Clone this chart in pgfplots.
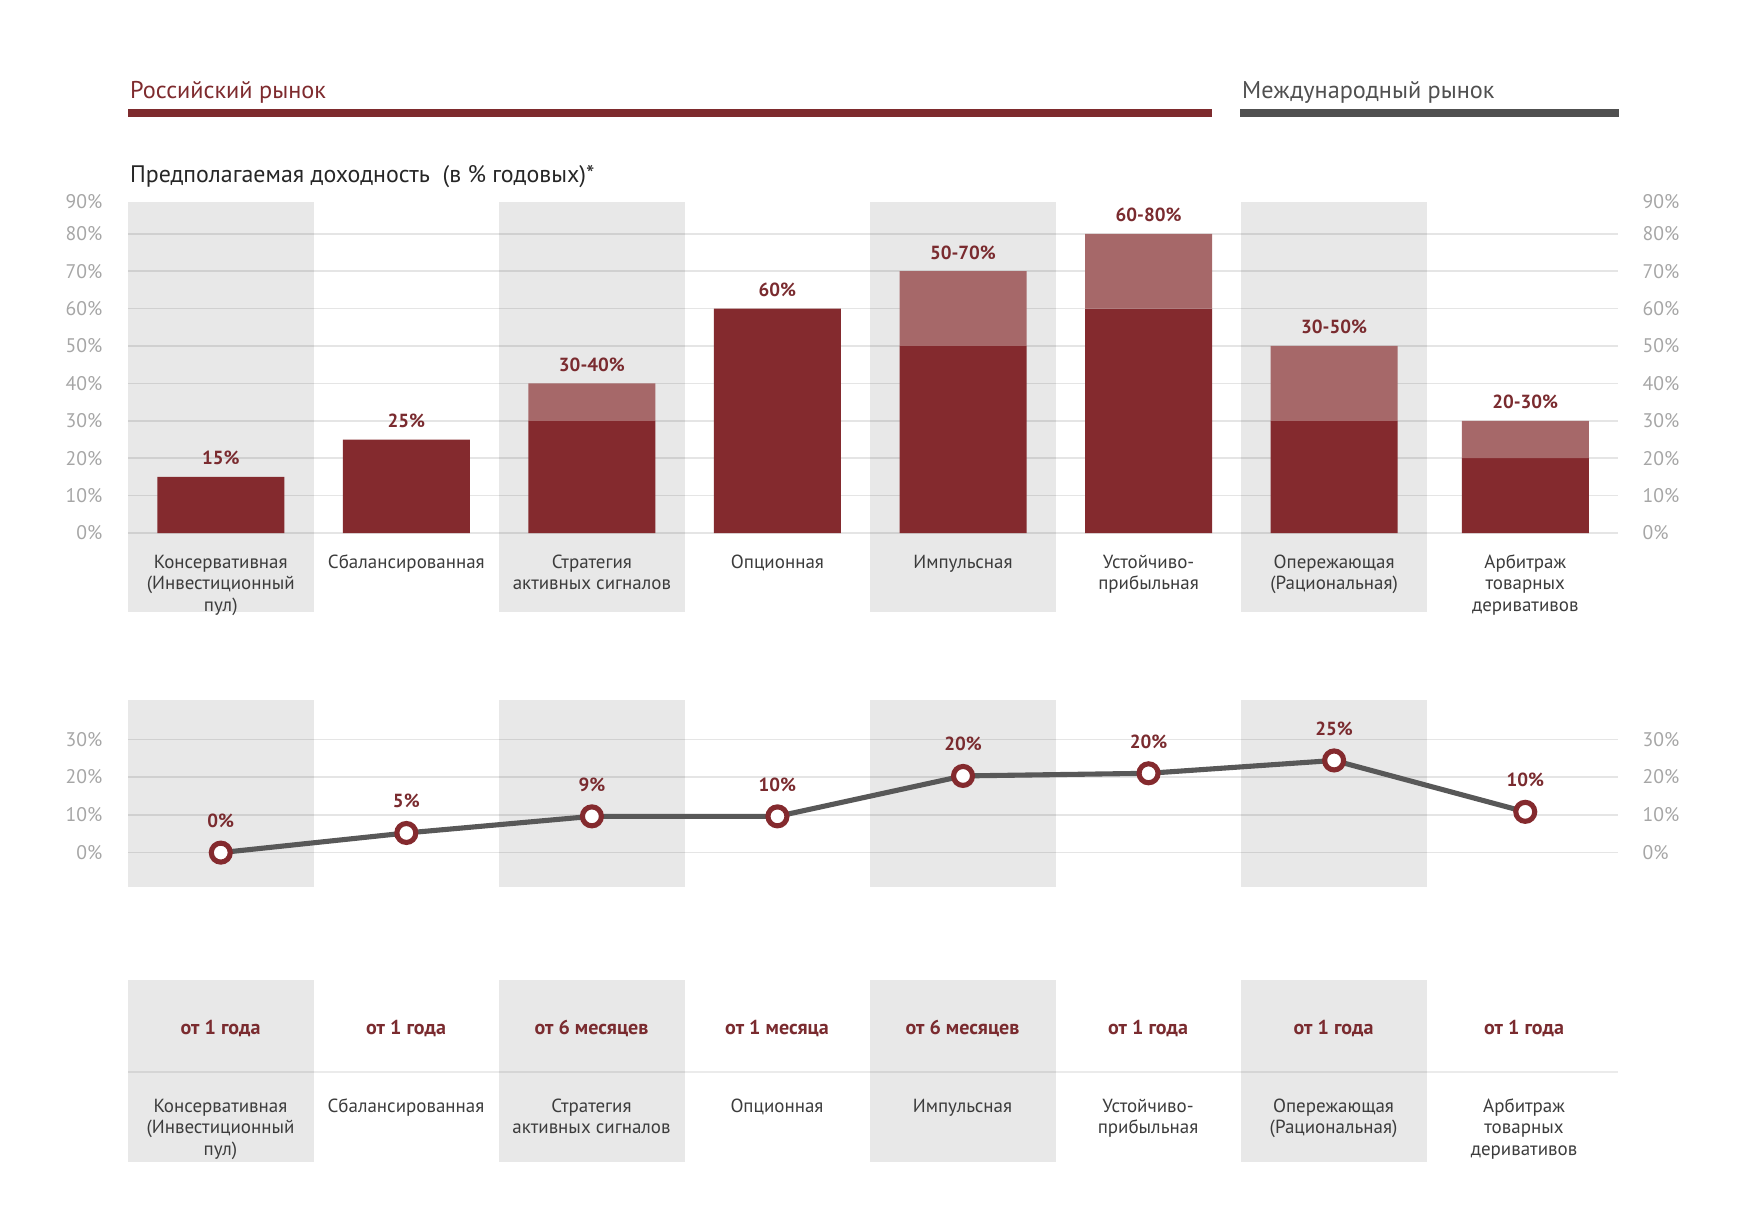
\documentclass[border=0pt]{standalone}
\usepackage{fontspec}
\setmainfont{PT Sans}
\usepackage{pgfplots}
\pgfplotsset{compat=1.18}
\definecolor{dred}{HTML}{842A2E}
\definecolor{lred}{HTML}{A66869}
\definecolor{bandc}{HTML}{E8E8E8}
\definecolor{labred}{HTML}{7A2B2F}
\definecolor{tickc}{HTML}{A6A6A6}
\definecolor{lineg}{HTML}{585858}
\definecolor{titler}{HTML}{7E2B2E}
\definecolor{titleg}{HTML}{505050}
\definecolor{catc}{HTML}{3C3C3C}
\newcommand{\fs}{\fontsize{5.4}{6.1}\selectfont}
\newcommand{\tfs}{\fontsize{5.6}{6.1}\selectfont}
\newcommand{\bfs}{\fontsize{5.4}{6.1}\selectfont\bfseries}
\newcommand{\hfs}{\fontsize{6.9}{8}\selectfont}
\newcommand{\cl}[1]{\begin{tabular}[t]{@{}c@{}}#1\end{tabular}}
\tikzset{
  catlab/.style={anchor=base, inner sep=0pt, font=\fs, text=catc},
  barlab/.style={anchor=base, inner sep=0pt, yshift=1.2mm, font=\bfs, text=labred},
  rtick/.style={anchor=west, inner sep=0pt, xshift=2.4mm, font=\tfs, text=tickc},
  gl/.style={black, opacity=0.1, line width=0.45pt},
}
\begin{document}
\begin{tikzpicture}
\path[use as bounding box] (0,0) rectangle (17.53,12.27);
% headers
\node[anchor=base west, inner sep=0pt, font=\hfs, text=titler] at (1.295,11.285) {Российский рынок};
\node[anchor=base west, inner sep=0pt, font=\hfs, text=titleg] at (12.415,11.285) {Международный рынок};
\fill[titler] (1.28,11.097) rectangle (12.12,11.177);
\fill[titleg] (12.40,11.097) rectangle (16.19,11.177);
\node[anchor=base west, inner sep=0pt, font=\fontsize{6.8}{8}\selectfont, text=black!85] at (1.295,10.445) {Предполагаемая доходность\ \ (в \% годовых)*};

% top panel
\begin{axis}[
  at={(1.28cm,6.15cm)}, anchor=south west,
  scale only axis, width=14.90cm, height=4.10cm,
  xmin=-0.5, xmax=7.53, ymin=-21.1, ymax=88.5,
  clip=false, axis line style={draw=none}, major tick length=0pt,
  xtick=\empty,
  ytick={0,10,20,30,40,50,60,70,80},
  yticklabels={0\%,10\%,20\%,30\%,40\%,50\%,60\%,70\%,80\%},
  extra y ticks={88.5}, extra y tick labels={90\%},
  yticklabel style={font=\tfs, text=tickc, inner sep=0pt, anchor=east, xshift=-2.5mm},
  ybar stacked, reverse stacked plots=false, bar width=1.27cm,
]
\fill[bandc] (axis cs:-0.5,-21.1) rectangle (axis cs:0.5,88.5);
\fill[bandc] (axis cs:1.5,-21.1) rectangle (axis cs:2.5,88.5);
\fill[bandc] (axis cs:3.5,-21.1) rectangle (axis cs:4.5,88.5);
\fill[bandc] (axis cs:5.5,-21.1) rectangle (axis cs:6.5,88.5);
\pgfplotsinvokeforeach{0,10,...,80}{\draw[gl] (axis cs:-0.5,#1) -- (axis cs:7.53,#1);}
\addplot[fill=dred, draw=none] coordinates {(0,15) (1,25) (2,30) (3,60) (4,50) (5,60) (6,30) (7.03,20)};
\addplot[fill=lred, draw=none] coordinates {(0,0) (1,0) (2,10) (3,0) (4,20) (5,20) (6,20) (7.03,10)};
\node[barlab] at (axis cs:0,15) {15\%};
\node[barlab] at (axis cs:1,25) {25\%};
\node[barlab] at (axis cs:2,40) {30-40\%};
\node[barlab] at (axis cs:3,60) {60\%};
\node[barlab] at (axis cs:4,70) {50-70\%};
\node[barlab] at (axis cs:5,80) {60-80\%};
\node[barlab] at (axis cs:6,50) {30-50\%};
\node[barlab] at (axis cs:7.03,30) {20-30\%};
\node[catlab] at (axis cs:0,-9.41) {\cl{Консервативная\\(Инвестиционный\\пул)}};
\node[catlab] at (axis cs:1,-9.41) {\cl{Сбалансированная}};
\node[catlab] at (axis cs:2,-9.41) {\cl{Стратегия\\активных сигналов}};
\node[catlab] at (axis cs:3,-9.41) {\cl{Опционная}};
\node[catlab] at (axis cs:4,-9.41) {\cl{Импульсная}};
\node[catlab] at (axis cs:5,-9.41) {\cl{Устойчиво-\\прибыльная}};
\node[catlab] at (axis cs:6,-9.41) {\cl{Опережающая\\(Рациональная)}};
\node[catlab] at (axis cs:7.03,-9.41) {\cl{Арбитраж\\товарных\\деривативов}};
\pgfplotsinvokeforeach{0,10,...,80}{\node[rtick] at (axis cs:7.53,#1) {#1\%};}
\node[rtick] at (axis cs:7.53,88.5) {90\%};
\end{axis}

% middle panel
\begin{axis}[
  at={(1.28cm,3.40cm)}, anchor=south west,
  scale only axis, width=14.90cm, height=1.87cm,
  xmin=-0.5, xmax=7.53, ymin=-9.1, ymax=40.4,
  clip=false, axis line style={draw=none}, major tick length=0pt,
  xtick=\empty,
  ytick={0,10,20,30},
  yticklabels={0\%,10\%,20\%,30\%},
  yticklabel style={font=\tfs, text=tickc, inner sep=0pt, anchor=east, xshift=-2.5mm},
]
\fill[bandc] (axis cs:-0.5,-9.1) rectangle (axis cs:0.5,40.4);
\fill[bandc] (axis cs:1.5,-9.1) rectangle (axis cs:2.5,40.4);
\fill[bandc] (axis cs:3.5,-9.1) rectangle (axis cs:4.5,40.4);
\fill[bandc] (axis cs:5.5,-9.1) rectangle (axis cs:6.5,40.4);
\pgfplotsinvokeforeach{0,10,20,30}{\draw[gl] (axis cs:-0.5,#1) -- (axis cs:7.53,#1);}
\addplot[lineg, line width=1.45pt, mark=*, mark size=2.7pt,
  mark options={fill=white, draw=dred, line width=1.45pt, solid},
  nodes near coords, point meta=explicit symbolic,
  nodes near coords style={anchor=base, inner sep=0pt, yshift=2.5mm, font=\bfs, text=labred}]
  coordinates {(0,0) [0\%] (1,5.2) [5\%] (2,9.6) [9\%] (3,9.6) [10\%] (4,20.3) [20\%] (5,21) [20\%] (6,24.4) [25\%] (7.03,10.8) [10\%]};
\pgfplotsinvokeforeach{0,10,20,30}{\node[rtick] at (axis cs:7.53,#1) {#1\%};}
\end{axis}

% bottom table
\fill[bandc] (1.28,0.65) rectangle (3.135,2.47);
\fill[bandc] (4.99,0.65) rectangle (6.845,2.47);
\fill[bandc] (8.70,0.65) rectangle (10.555,2.47);
\fill[bandc] (12.41,0.65) rectangle (14.265,2.47);
\draw[black, opacity=0.08, line width=0.45pt] (1.28,1.55) -- (16.18,1.55);
\tikzset{dur/.style={anchor=base, inner sep=0pt, font=\bfseries\fontsize{5.7}{6.5}\selectfont, text=labred}}
\node[dur] at (2.205,1.93) {от 1 года};
\node[dur] at (4.06,1.93) {от 1 года};
\node[dur] at (5.915,1.93) {от 6 месяцев};
\node[dur] at (7.77,1.93) {от 1 месяца};
\node[dur] at (9.625,1.93) {от 6 месяцев};
\node[dur] at (11.48,1.93) {от 1 года};
\node[dur] at (13.335,1.93) {от 1 года};
\node[dur] at (15.24,1.93) {от 1 года};
\node[catlab] at (2.205,1.147) {\cl{Консервативная\\(Инвестиционный\\пул)}};
\node[catlab] at (4.06,1.147) {\cl{Сбалансированная}};
\node[catlab] at (5.915,1.147) {\cl{Стратегия\\активных сигналов}};
\node[catlab] at (7.77,1.147) {\cl{Опционная}};
\node[catlab] at (9.625,1.147) {\cl{Импульсная}};
\node[catlab] at (11.48,1.147) {\cl{Устойчиво-\\прибыльная}};
\node[catlab] at (13.335,1.147) {\cl{Опережающая\\(Рациональная)}};
\node[catlab] at (15.24,1.147) {\cl{Арбитраж\\товарных\\деривативов}};
\end{tikzpicture}
\end{document}
